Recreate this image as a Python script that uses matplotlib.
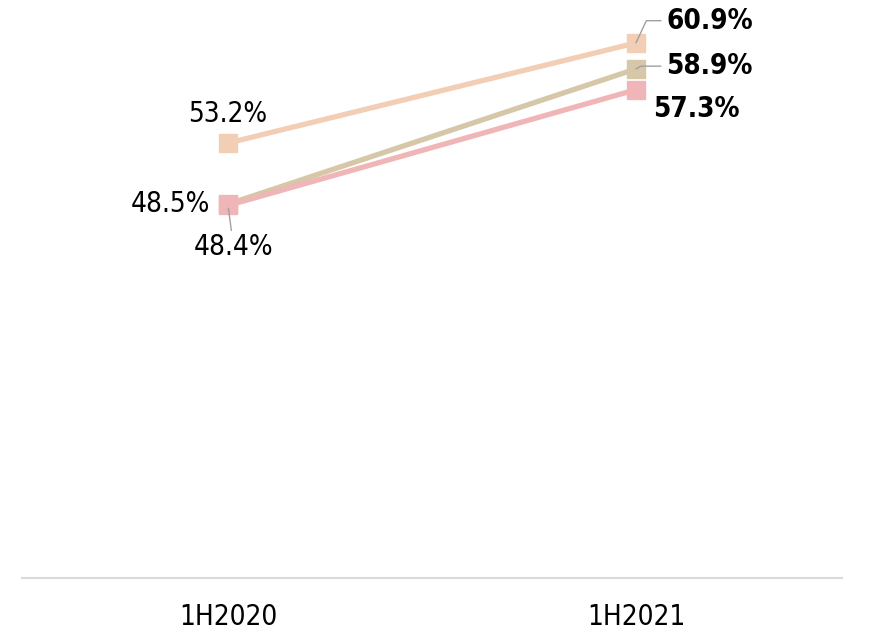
import matplotlib.pyplot as plt

plt.rcParams['font.family'] = ['DejaVu Sans']
plt.rcParams['font.stretch'] = 'condensed'

periods = ["1H2020", "1H2021"]
peach = [53.2, 60.9]
tan = [48.5, 58.9]
pink = [48.4, 57.3]

series = [
    (peach, "#F2CEB4"),
    (tan, "#D6C7A8"),
    (pink, "#F0B5B6"),
]

fig = plt.figure(figsize=(8.72, 6.33), dpi=100)
ax = fig.add_axes([22 / 872, 55 / 633, 820 / 872, 578 / 633])

x = list(range(len(periods)))
for vals, col in series:
    ax.plot(x, vals, color=col, lw=3.8, marker="s", markersize=13,
            solid_capstyle="butt", clip_on=False)

ax.set_xlim(-0.505, 1.505)
ax.set_ylim(19.75, 64.2)

lead = dict(color="#A0A0A0", lw=1)
fs = 20

# 1H2020 labels
ax.annotate(f"{peach[0]}%", (0, peach[0]), xytext=(0, 11), textcoords="offset points",
            ha="center", va="bottom", fontsize=fs)
ax.annotate(f"{tan[0]}%", (0, tan[0]), xytext=(-13, 0), textcoords="offset points",
            ha="right", va="center", fontsize=fs)
ax.annotate(f"{pink[0]}%", (0, pink[0]), xytext=(4, -20), textcoords="offset points",
            ha="center", va="top", fontsize=fs,
            arrowprops=dict(arrowstyle="-", shrinkA=0, shrinkB=2, **lead))

# 1H2021 labels
ax.annotate(f"{peach[1]}%", (1, peach[1]), xytext=(22, 16), textcoords="offset points",
            ha="left", va="center", fontsize=fs, fontweight="bold",
            arrowprops=dict(arrowstyle="-", shrinkA=2, shrinkB=0,
                            connectionstyle="angle,angleA=0,angleB=65,rad=0", **lead))
ax.annotate(f"{tan[1]}%", (1, tan[1]), xytext=(22, 2), textcoords="offset points",
            ha="left", va="center", fontsize=fs, fontweight="bold",
            arrowprops=dict(arrowstyle="-", shrinkA=2, shrinkB=0,
                            connectionstyle="angle,angleA=0,angleB=30,rad=0", **lead))
ax.annotate(f"{pink[1]}%", (1, pink[1]), xytext=(12, -14), textcoords="offset points",
            ha="left", va="center", fontsize=fs, fontweight="bold")

ax.set_xticks(x)
ax.set_xticklabels(periods, fontsize=fs)
ax.tick_params(axis="x", length=0, pad=18)
ax.set_yticks([])
for s in ["left", "right", "top"]:
    ax.spines[s].set_visible(False)
ax.spines["bottom"].set_color("#D9D9D9")
ax.spines["bottom"].set_linewidth(1.5)

fig.savefig("out.png", dpi=100)
